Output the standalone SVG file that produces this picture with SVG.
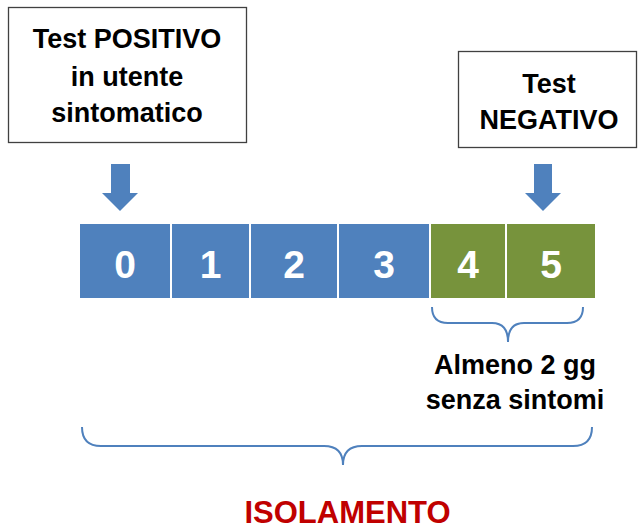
<svg xmlns="http://www.w3.org/2000/svg" width="639" height="530" viewBox="0 0 639 530">
<style>
.box{fill:#fff;stroke:#404040;stroke-width:1.3}
.t{font-family:"Liberation Sans",Arial,sans-serif;font-weight:bold;fill:#000;text-anchor:middle}
.num{font-family:"Liberation Sans",Arial,sans-serif;font-weight:bold;fill:#fff;text-anchor:middle;font-size:39px}
.blue{fill:#4F81BD}
.green{fill:#77933C}
.brace{fill:none;stroke:#4F81BD;stroke-width:2}
</style>
<rect width="639" height="530" fill="#fff"/>
<g id="box-positivo">
<rect class="box" x="8.5" y="7.5" width="238" height="135"/>
<text class="t" font-size="27" x="127" y="48">Test POSITIVO</text>
<text class="t" font-size="27" x="127" y="86">in utente</text>
<text class="t" font-size="27" x="127" y="122">sintomatico</text>
</g>
<g id="box-negativo">
<rect class="box" x="458.5" y="51.5" width="178" height="96"/>
<text class="t" font-size="27" x="549" y="93">Test</text>
<text class="t" font-size="27" x="549" y="129">NEGATIVO</text>
</g>
<g id="day0"><rect class="blue" x="80" y="224" width="90" height="74"/><text class="num" x="125" y="278">0</text></g>
<g id="day1"><rect class="blue" x="172" y="224" width="77" height="74"/><text class="num" x="210.5" y="278">1</text></g>
<g id="day2"><rect class="blue" x="251" y="224" width="86" height="74"/><text class="num" x="294" y="278">2</text></g>
<g id="day3"><rect class="blue" x="339" y="224" width="90" height="74"/><text class="num" x="384" y="278">3</text></g>
<g id="day4"><rect class="green" x="431" y="224" width="74" height="74"/><text class="num" x="468" y="278">4</text></g>
<g id="day5"><rect class="green" x="507" y="224" width="88" height="74"/><text class="num" x="551" y="278">5</text></g>
<g id="connectors">
<polygon class="blue" points="111,164 130,164 130,193 138,193 120,211 102,193 111,193"/>
<polygon class="blue" points="534,164 552,164 552,193 561,193 543,211 525,193 534,193"/>
<path class="brace" d="M432,307 Q432,323 448,323 L492,323 Q508,323 508,342 Q508,323 524,323 L567,323 Q583,323 583,307"/>
<path class="brace" d="M82,427 Q82,446 101,446 L324,446 Q343,446 343,465 Q343,446 362,446 L573,446 Q592,446 592,427"/>
</g>
<g id="label-almeno">
<text class="t" font-size="27" x="515" y="374">Almeno 2 gg</text>
<text class="t" font-size="27" x="515" y="409">senza sintomi</text>
</g>
<g id="label-isolamento">
<text class="t" font-size="31" x="347.5" y="523" style="fill:#C00000">ISOLAMENTO</text>
</g>
</svg>
